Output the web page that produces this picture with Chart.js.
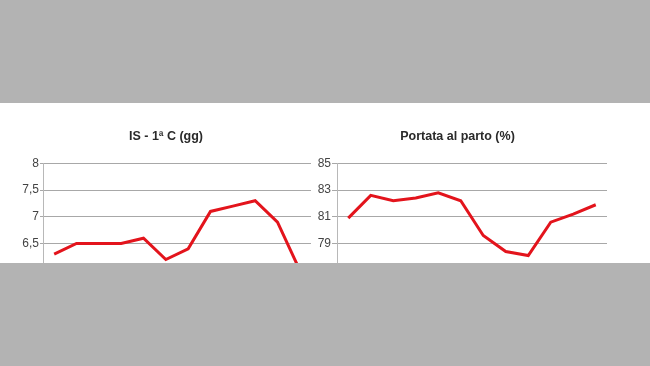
<!DOCTYPE html>
<html>
<head>
<meta charset="utf-8">
<script src="https://cdn.jsdelivr.net/npm/chart.js@4/dist/chart.umd.min.js"></script>
<style>
  html, body { margin:0; padding:0; background:#b3b3b3; width:650px; height:366px; overflow:hidden; }
  #band { position:absolute; left:0; top:103px; width:650px; height:160px; background:#fff; overflow:hidden; }
  #band canvas { position:absolute; top:0; }
</style>
</head>
<body>
<div id="band">
  <canvas id="isChart" width="336" height="210" style="left:0"></canvas>
  <canvas id="portataChart" width="315" height="210" style="left:300px"></canvas>
</div>
<script>
const months = ['Gen','Feb','Mar','Apr','Mag','Giu','Lug','Ago','Set','Ott','Nov','Dic'];
const isValues = [6.3, 6.5, 6.5, 6.5, 6.6, 6.2, 6.4, 7.1, 7.2, 7.3, 6.9, 6.0];
const portataValues = [80.9, 82.6, 82.2, 82.4, 82.8, 82.2, 79.6, 78.4, 78.1, 80.6, 81.2, 81.9];
const isTicks = [5.5, 6, 6.5, 7, 7.5, 8];
const portataTicks = [75, 77, 79, 81, 83, 85];

Chart.defaults.font.family = '"Liberation Sans", Arial, sans-serif';
Chart.defaults.animation = false;

function makeChart(id, title, values, ticks, padLeft, axisWidth, padRight, tickLen) {
  return new Chart(document.getElementById(id), {
    type: 'line',
    data: {
      labels: months,
      datasets: [{
        data: values,
        borderColor: '#e3141c',
        borderWidth: 3,
        pointRadius: 0,
        tension: 0,
        fill: false
      }]
    },
    options: {
      responsive: false,
      layout: { padding: { top: 0, right: padRight, bottom: 16, left: padLeft } },
      plugins: {
        legend: { display: false },
        tooltip: { enabled: false },
        title: {
          display: true,
          text: title,
          color: '#2a2a2a',
          font: { size: 12.5, weight: 'bold' },
          padding: { top: 26.5, bottom: 18.8 }
        }
      },
      scales: {
        x: { display: false, offset: true },
        y: {
          min: ticks[0],
          max: ticks[ticks.length - 1],
          afterBuildTicks: s => { s.ticks = ticks.map(v => ({ value: v })); },
          afterFit: s => { s.width = axisWidth; },
          grid: { color: '#a8a8a8', tickLength: tickLen, drawTicks: true },
          border: { color: '#b8b8b8' },
          ticks: {
            color: '#444',
            padding: 1,
            font: { size: 12 },
            callback: v => String(v).replace('.', ',')
          }
        }
      }
    }
  });
}

makeChart('isChart', 'IS - 1ª C (gg)', isValues, isTicks, 21, 22, 25, 3);
makeChart('portataChart', 'Portata al parto (%)', portataValues, portataTicks, 8, 29, 8, 5);
</script>
</body>
</html>
